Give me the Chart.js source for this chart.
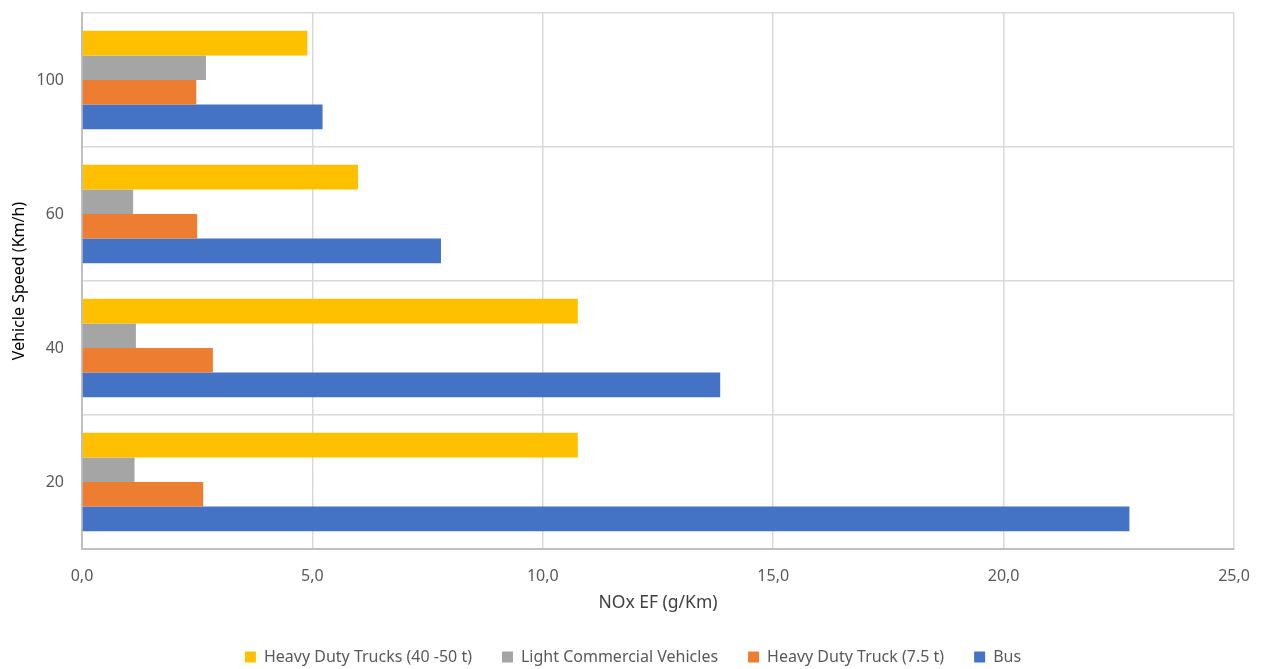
<!DOCTYPE html>
<html>
<head>
<meta charset="utf-8">
<script src="https://cdn.jsdelivr.net/npm/chart.js@4/dist/chart.umd.min.js"></script>
<style>
  html, body { margin: 0; padding: 0; background: #ffffff; }
  #wrap { width: 1266px; height: 669px; position: relative; }
</style>
</head>
<body>
<div id="wrap"><canvas id="chart"></canvas></div>
<script>
// Vehicle speed categories, listed top to bottom
const speeds = ['100', '60', '40', '20'];

// NOx emission factors (g/km) per speed, same order as speeds
const heavyTrucks40to50 = [4.89, 5.99, 10.76, 10.76];
const lightCommercial   = [2.69, 1.11, 1.17, 1.14];
const heavyTruck7_5     = [2.48, 2.50, 2.84, 2.63];
const bus               = [5.22, 7.79, 13.85, 22.73];

const seriesNames = ['Heavy Duty Trucks (40 -50 t)', 'Light Commercial Vehicles', 'Heavy Duty Truck (7.5 t)', 'Bus'];
const seriesColors = ['#ffc000', '#a5a5a5', '#ed7d31', '#4472c4'];
const seriesValues = [heavyTrucks40to50, lightCommercial, heavyTruck7_5, bus];

const FONT = '"Noto Sans", "Open Sans", sans-serif';
const TEXT = '#595959';

const datasets = seriesNames.map((name, i) => ({
  label: name,
  data: seriesValues[i],
  backgroundColor: seriesColors[i],
  borderWidth: 0,
  categoryPercentage: 0.735,
  barPercentage: 1.0
}));

// Legend: wide horizontal gaps but a short box, centred on the whole canvas
const compactLegend = {
  id: 'compactLegend',
  beforeLayout(chart) {
    const lg = chart.legend;
    if (lg && !lg._compact) {
      const fit = lg.fit.bind(lg);
      lg.fit = function () {
        fit();
        this.height = 50;
      };
      lg._compact = true;
    }
  },
  afterLayout(chart) {
    const lg = chart.legend;
    if (lg) {
      const shift = (chart.width - (lg.left + lg.right)) / 2;
      lg.left += shift;
      lg.right += shift;
    }
  }
};

new Chart(document.getElementById('chart'), {
  type: 'bar',
  data: { labels: speeds, datasets },
  plugins: [compactLegend],
  options: {
    indexAxis: 'y',
    responsive: true,
    maintainAspectRatio: false,
    animation: false,
    layout: { padding: { top: 13, right: 32, left: 0, bottom: 0 } },
    plugins: {
      tooltip: { enabled: false },
      legend: {
        position: 'bottom',
        labels: {
          font: { family: FONT, size: 16 },
          color: TEXT,
          boxWidth: 11,
          boxHeight: 11,
          padding: 30
        }
      }
    },
    scales: {
      x: {
        min: 0,
        max: 25,
        ticks: {
          stepSize: 5,
          padding: 18,
          font: { family: FONT, size: 16 },
          color: TEXT,
          callback: v => Number(v).toFixed(1).replace('.', ',')
        },
        grid: { color: '#d9d9d9', lineWidth: 1.5, drawTicks: false },
        border: { color: '#bfbfbf', width: 2 },
        title: {
          display: true,
          text: 'NOx EF (g/Km)',
          font: { family: FONT, size: 17.5 },
          color: '#404040',
          padding: { top: 6, bottom: 5 }
        },
        afterFit: s => {
          s.height = 70;
          s.paddingLeft = 0;
          s.paddingRight = 0;
        }
      },
      y: {
        ticks: {
          padding: 18,
          font: { family: FONT, size: 16 },
          color: TEXT
        },
        grid: { color: '#d9d9d9', lineWidth: 1.5, drawTicks: false, offset: true },
        border: { color: '#bfbfbf', width: 2 },
        title: {
          display: true,
          text: 'Vehicle Speed (Km/h)',
          font: { family: FONT, size: 16 },
          color: '#000000',
          padding: { top: 10, bottom: 0 }
        },
        afterFit: s => {
          s.width = 82;
          s.paddingTop = 0;
          s.paddingBottom = 0;
        }
      }
    }
  }
});
</script>
</body>
</html>
